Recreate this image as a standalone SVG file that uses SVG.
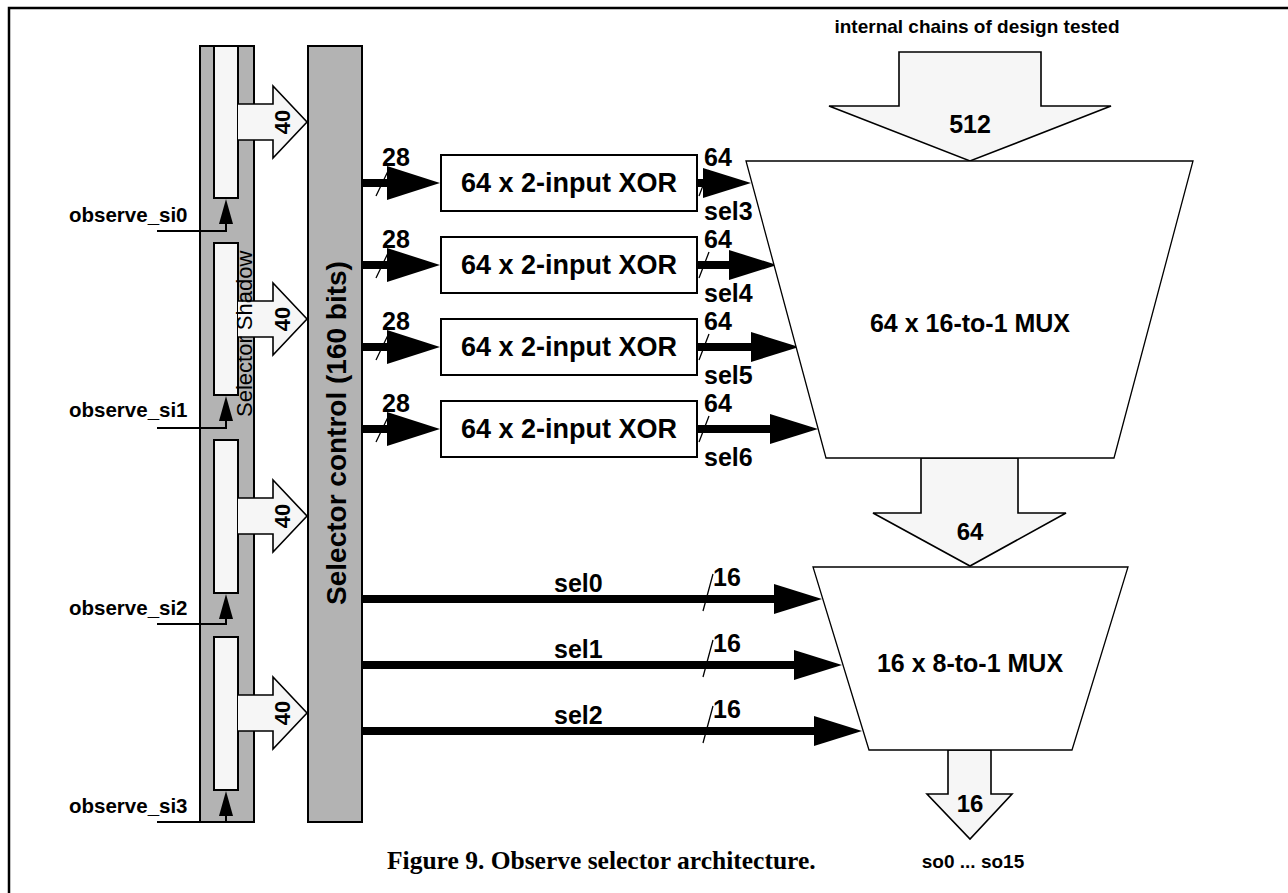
<svg xmlns="http://www.w3.org/2000/svg" width="1288" height="893" viewBox="0 0 1288 893">
<defs>
<style>
text{font-family:"Liberation Sans",Arial,sans-serif;font-weight:bold;fill:#000}
.gray{fill:#b3b3b3;stroke:#000;stroke-width:2}
.reg{fill:#f6f6f6;stroke:#000;stroke-width:2}
.box{fill:#fff;stroke:#000;stroke-width:2}
.mux{fill:#fff;stroke:#000;stroke-width:1.3}
.blk{fill:#f6f6f6;stroke:#000;stroke-width:1.6;stroke-linejoin:miter}
.bus{stroke:#000;stroke-width:8;fill:none}
.thin{stroke:#000;stroke-width:2;fill:none}
.head{fill:#000;stroke:none}
.slash{stroke:#000;stroke-width:1.3;fill:none}
.lbl{font-size:25px}
.mid{text-anchor:middle}
</style>
<marker id="hin" markerUnits="userSpaceOnUse" markerWidth="54" markerHeight="36" refX="0" refY="17" orient="auto"><path d="M0,0 L53,17 L0,34 Z" fill="#000"/></marker>
<marker id="hout" markerUnits="userSpaceOnUse" markerWidth="50" markerHeight="32" refX="0" refY="15" orient="auto"><path d="M0,0 L48,15 L0,30 Z" fill="#000"/></marker>
</defs>

<!-- frame -->
<path d="M9,893 V8 H1288" fill="none" stroke="#000" stroke-width="2.5"/>

<g id="selector-shadow">
<rect class="gray" x="200" y="46" width="54" height="776"/>
<rect class="reg" x="214" y="46" width="24" height="152"/>
<rect class="reg" x="214" y="243" width="24" height="152"/>
<rect class="reg" x="214" y="440" width="24" height="153"/>
<rect class="reg" x="214" y="637" width="24" height="153"/>
</g>

<g id="selector-control">
<rect class="gray" x="308" y="46" width="54" height="776"/>
<text transform="translate(346,433) rotate(-90)" class="mid" style="font-size:28px">Selector control (160 bits)</text>
</g>

<g id="connectors">
<!-- shadow to control block arrows -->
<path class="blk" d="M238,104 H273 V86 L307,122 L273,158 V140 H238"/>
<path class="blk" d="M238,301 H273 V283 L307,319 L273,355 V337 H238"/>
<path class="blk" d="M238,498 H273 V480 L307,516 L273,552 V534 H238"/>
<path class="blk" d="M238,695 H273 V677 L307,713 L273,749 V731 H238"/>
<!-- observe inputs -->
<path class="thin" d="M157,231 H226 V222"/>
<polygon class="head" points="226,199 233,224 219,224"/>
<path class="thin" d="M157,428 H226 V419"/>
<polygon class="head" points="226,396 233,421 219,421"/>
<path class="thin" d="M157,624 H226 V617"/>
<polygon class="head" points="226,594 233,619 219,619"/>
<path class="thin" d="M157,822 H226 V814"/>
<polygon class="head" points="226,791 233,816 219,816"/>
<!-- control to XOR -->
<line class="bus" x1="362" y1="183" x2="387" y2="183" marker-end="url(#hin)"/>
<line class="bus" x1="362" y1="265" x2="387" y2="265" marker-end="url(#hin)"/>
<line class="bus" x1="362" y1="347" x2="387" y2="347" marker-end="url(#hin)"/>
<line class="bus" x1="362" y1="429" x2="387" y2="429" marker-end="url(#hin)"/>
<path class="slash" d="M376,196 L389,169 M376,278 L389,251 M376,360 L389,333 M376,442 L389,415"/>
<!-- XOR to MUX -->
<line class="bus" x1="697" y1="183" x2="703" y2="183" marker-end="url(#hout)"/>
<line class="bus" x1="697" y1="265" x2="729" y2="265" marker-end="url(#hout)"/>
<line class="bus" x1="697" y1="347" x2="751" y2="347" marker-end="url(#hout)"/>
<line class="bus" x1="697" y1="429" x2="770" y2="429" marker-end="url(#hout)"/>
<path class="slash" d="M699,196 L709,170 M699,278 L709,252 M699,360 L709,334 M699,442 L709,416"/>
<!-- control to MUX2 -->
<line class="bus" x1="362" y1="599" x2="774" y2="599" marker-end="url(#hout)"/>
<line class="bus" x1="362" y1="665" x2="794" y2="665" marker-end="url(#hout)"/>
<line class="bus" x1="362" y1="731" x2="814" y2="731" marker-end="url(#hout)"/>
<path class="slash" d="M703,611 L713,574 M703,677 L713,640 M703,743 L713,706"/>
<!-- block arrows at muxes -->
<path class="blk" d="M899,52 H1041 V106 H1111 L970,161 L829,106 H899 Z"/>
<path class="blk" d="M921,458 H1018 V513 H1066 L970,566 L873,513 H921 Z"/>
<path class="blk" d="M948,750 H991 V794 H1012 L970,839 L927,794 H948 Z"/>
</g>

<g id="shadow-labels">
<text transform="translate(252,417) rotate(-90)" style="font-size:22px;font-weight:normal">Selector Shadow</text>
<text transform="translate(289.5,122) rotate(-90)" class="mid" style="font-size:22px">40</text>
<text transform="translate(289.5,319) rotate(-90)" class="mid" style="font-size:22px">40</text>
<text transform="translate(289.5,516) rotate(-90)" class="mid" style="font-size:22px">40</text>
<text transform="translate(289.5,713) rotate(-90)" class="mid" style="font-size:22px">40</text>
<text x="69" y="222" style="font-size:20.5px">observe_si0</text>
<text x="69" y="417" style="font-size:20.5px">observe_si1</text>
<text x="69" y="615" style="font-size:20.5px">observe_si2</text>
<text x="69" y="813" style="font-size:20.5px">observe_si3</text>
</g>

<g id="xor1">
<rect class="box" x="441" y="155" width="256" height="56"/>
<text x="569" y="192" class="mid" style="font-size:27px">64 x 2-input XOR</text>
</g>
<g id="xor2">
<rect class="box" x="441" y="237" width="256" height="56"/>
<text x="569" y="274" class="mid" style="font-size:27px">64 x 2-input XOR</text>
</g>
<g id="xor3">
<rect class="box" x="441" y="319" width="256" height="56"/>
<text x="569" y="356" class="mid" style="font-size:27px">64 x 2-input XOR</text>
</g>
<g id="xor4">
<rect class="box" x="441" y="401" width="256" height="56"/>
<text x="569" y="438" class="mid" style="font-size:27px">64 x 2-input XOR</text>
</g>

<g id="bus-labels">
<text x="382" y="166" class="lbl">28</text>
<text x="382" y="248" class="lbl">28</text>
<text x="382" y="330" class="lbl">28</text>
<text x="382" y="412" class="lbl">28</text>
<text x="704" y="166" class="lbl">64</text>
<text x="704" y="248" class="lbl">64</text>
<text x="704" y="330" class="lbl">64</text>
<text x="704" y="412" class="lbl">64</text>
<text x="704" y="220" class="lbl">sel3</text>
<text x="704" y="302" class="lbl">sel4</text>
<text x="704" y="384" class="lbl">sel5</text>
<text x="704" y="466" class="lbl">sel6</text>
<text x="554" y="592" class="lbl">sel0</text>
<text x="554" y="658" class="lbl">sel1</text>
<text x="554" y="724" class="lbl">sel2</text>
<text x="713" y="586" class="lbl">16</text>
<text x="713" y="652" class="lbl">16</text>
<text x="713" y="718" class="lbl">16</text>
</g>

<g id="mux1">
<polygon class="mux" points="746,161 1193,161 1114,458 826,458"/>
<text x="970" y="332" class="mid" style="font-size:25px">64 x 16-to-1 MUX</text>
</g>
<g id="mux2">
<polygon class="mux" points="813,567 1128,567 1072,750 869,750"/>
<text x="970" y="672" class="mid" style="font-size:25px">16 x 8-to-1 MUX</text>
</g>

<g id="io-labels">
<text x="977" y="33" class="mid" style="font-size:19px">internal chains of design tested</text>
<text x="970" y="133" class="mid" style="font-size:25px">512</text>
<text x="970" y="540" class="mid" style="font-size:24px">64</text>
<text x="970" y="812" class="mid" style="font-size:24px">16</text>
<text x="973" y="868" class="mid" style="font-size:19px">so0 ... so15</text>
</g>

<text x="387" y="869" style="font-family:'Liberation Serif','Times New Roman',serif;font-size:25.5px">Figure 9. Observe selector architecture.</text>
</svg>
